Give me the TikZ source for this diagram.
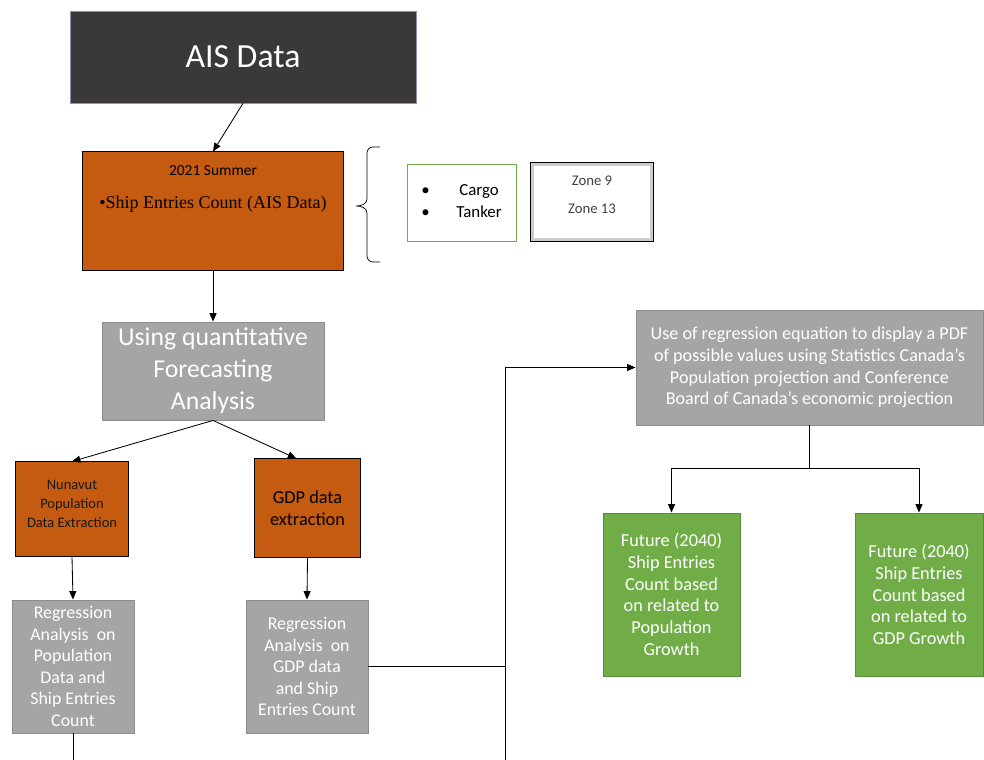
\documentclass[tikz,border=0pt]{standalone}
\usepackage{fontspec}
\setmainfont{Carlito}
\newfontfamily\serifface{Liberation Serif}
\usetikzlibrary{arrows.meta}
\definecolor{darkbox}{HTML}{3B3838}
\definecolor{rust}{HTML}{C55A11}
\definecolor{midgray}{HTML}{A5A5A5}
\definecolor{leaf}{HTML}{70AD47}
\tikzset{
  arr/.style={-{Triangle[length=6pt,width=5pt]},line width=0.6pt},
  ln/.style={line width=0.6pt},
  rustbox/.style={draw=black,fill=rust,line width=0.7pt,align=center,inner sep=0pt},
  graybox/.style={draw=gray!90,fill=midgray,text=white,line width=0.6pt,align=center,inner sep=0pt},
  greenbox/.style={draw=leaf!80!black,fill=leaf,text=white,line width=0.6pt,align=center,inner sep=0pt}
}
\begin{document}
\begin{tikzpicture}[x=0.025cm,y=-0.025cm]
\useasboundingbox (0,0) rectangle (984,760);
% top part
\node[draw=blue!25!gray!70,fill=darkbox,text=white,minimum width=8.65cm,minimum height=2.3cm,inner sep=0pt,
  font=\fontsize{24}{29}\selectfont] (ais) at (243,57) {AIS Data};
\node[rustbox,minimum width=6.5cm,minimum height=2.95cm] (summer) at (213,211) {};
\node[align=center,inner sep=0pt] (summertxt) at (213,189)
  {\fontsize{11}{13}\selectfont 2021 Summer\\[12pt]{\serifface\fontsize{12.8}{14}\selectfont\textbullet Ship Entries Count (AIS Data)}};
\draw[line width=0.5pt] (380,147) -- (373,147) to[out=180,in=90] (367,153) -- (367,199)
  to[out=270,in=0] (356,206) to[out=0,in=90] (367,213) -- (367,256) to[out=270,in=180] (373,262) -- (380,262);
\node[draw=leaf,line width=0.6pt,minimum width=2.725cm,minimum height=1.925cm,inner sep=0pt,
  font=\fontsize{12}{15.6}\selectfont] (types) at (461.5,202.5)
  {\begin{tabular}{@{}l@{\hspace{19pt}}c@{}}\textbullet&Cargo\\\textbullet&Tanker\end{tabular}};
\node[draw=black,line width=0.8pt,minimum width=3.05cm,minimum height=1.95cm,inner sep=0pt,
  text=black!75,font=\fontsize{10.5}{12}\selectfont] (zones) at (592,202)
  {\raisebox{4pt}[\height][\depth]{\begin{tabular}{@{}c@{}}Zone 9\\[8pt]Zone 13\end{tabular}}};
\draw[gray!40,line width=1.6pt] ([shift={(2,2)}]zones.north west) rectangle ([shift={(-2,-2)}]zones.south east);
\node[graybox,minimum width=5.55cm,minimum height=2.45cm,font=\fontsize{18.3}{22.7}\selectfont] (quant) at (213,371)
  {Using quantitative\\Forecasting\\Analysis};
% two data branches
\node[rustbox,minimum width=2.8cm,minimum height=2.35cm,text=black!90,font=\fontsize{10.3}{13.2}\selectfont] (nunavut) at (72,509)
  {\raisebox{3pt}[\height][\depth]{\begin{tabular}{@{}c@{}}Nunavut\\Population\\Data Extraction\end{tabular}}};
\node[rustbox,minimum width=2.625cm,minimum height=2.45cm,font=\fontsize{13}{15.5}\selectfont] (gdp) at (307.5,508)
  {GDP data\\extraction};
\node[graybox,minimum width=3.05cm,minimum height=3.325cm,font=\fontsize{12.7}{15.3}\selectfont] (regpop) at (73,666.5)
  {Regression\\Analysis~ on\\Population\\Data and\\Ship Entries\\Count};
\node[graybox,minimum width=3.05cm,minimum height=3.325cm,font=\fontsize{12.7}{15.3}\selectfont] (reggdp) at (307,666.5)
  {Regression\\Analysis~ on\\GDP data\\and Ship\\Entries Count};
% projection part
\node[graybox,minimum width=8.675cm,minimum height=2.875cm,font=\fontsize{12.9}{15.4}\selectfont] (pdf) at (809.5,367.5)
  {Use of regression equation to display a PDF\\of possible values using Statistics Canada's\\Population projection and Conference\\Board of Canada's economic projection};
\node[greenbox,minimum width=3.425cm,minimum height=4.075cm,font=\fontsize{13}{15.4}\selectfont] (futpop) at (671.5,594.5)
  {Future (2040)\\Ship Entries\\Count based\\on related to\\Population\\Growth};
\node[greenbox,minimum width=3.2cm,minimum height=4.075cm,font=\fontsize{13}{15.4}\selectfont] (futgdp) at (919,594.5)
  {Future (2040)\\Ship Entries\\Count based\\on related to\\GDP Growth};
% connectors
\coordinate (popend) at (73,760);
\coordinate (bend) at (505,760);
\draw[arr] (ais.south) -- (summer.north);
\draw[arr] (summer.south) -- (quant.north);
\draw[arr] (quant.south) -- (nunavut.north);
\draw[arr] (quant.south) -- ([xshift=-8pt]gdp.north);
\draw[arr] (nunavut.south) -- (regpop.north);
\draw[arr] (gdp.south) -- (reggdp.north);
\draw[ln] (regpop.south) -- (popend);
\draw[ln] (reggdp.east) -- (reggdp.east -| bend);
\draw[arr] (bend) |- (pdf.west);
\draw[ln] (pdf.south) -- ++(0,43) coordinate (split);
\draw[arr] (split) -| (futpop.north);
\draw[arr] (split) -| (futgdp.north);
\end{tikzpicture}
\end{document}
